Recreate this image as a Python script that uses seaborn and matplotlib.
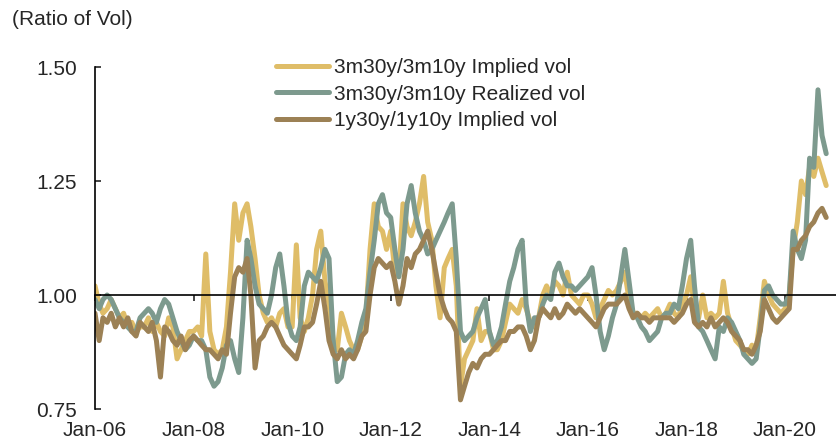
import pandas as pd
import seaborn as sns
import matplotlib
matplotlib.use("agg")
import matplotlib.pyplot as plt
import matplotlib.dates as mdates

# monthly readings, Jan-06 .. Nov-20
implied_3m = [
    1.02, 0.98, 0.96, 0.97, 0.99, 0.97, 0.95, 0.96, 0.93, 0.94, 0.92, 0.93,  # 2006
    0.93, 0.95, 0.92, 0.94, 0.92, 0.91, 0.95, 0.93, 0.86, 0.88, 0.90, 0.92,  # 2007
    0.92, 0.93, 0.91, 1.09, 0.92, 0.88, 0.87, 0.88, 0.93, 1.05, 1.20, 1.12,  # 2008
    1.18, 1.20, 1.15, 1.08, 1.00, 0.96, 0.94, 0.95, 0.93, 0.96, 0.97, 0.93,  # 2009
    0.93, 1.11, 0.95, 0.92, 0.95, 1.00, 1.10, 1.14, 1.03, 0.98, 0.90, 0.88,  # 2010
    0.96, 0.93, 0.90, 0.88, 0.88, 0.91, 0.95, 1.10, 1.20, 1.15, 1.14, 1.10,  # 2011
    1.14, 1.05, 1.04, 1.20, 1.15, 1.13, 1.16, 1.20, 1.26, 1.16, 1.12, 1.02,  # 2012
    0.95, 1.06, 1.08, 1.10, 1.02, 0.80, 0.86, 0.88, 0.90, 0.97, 0.90, 0.92,  # 2013
    0.92, 0.88, 0.88, 0.90, 0.94, 0.98, 0.97, 0.96, 0.99, 0.97, 0.94, 0.93,  # 2014
    0.95, 1.00, 1.02, 1.00, 1.03, 1.02, 1.00, 1.05, 1.00, 0.99, 0.98, 1.00,  # 2015
    1.00, 0.98, 0.95, 0.97, 0.99, 1.01, 1.00, 1.01, 1.03, 1.05, 0.99, 0.96,  # 2016
    0.96, 0.95, 0.96, 0.95, 0.96, 0.97, 0.95, 0.96, 0.98, 0.96, 0.95, 0.98,  # 2017
    1.00, 1.04, 0.97, 0.95, 1.00, 0.95, 0.96, 0.95, 0.96, 1.03, 0.96, 0.93,  # 2018
    0.90, 0.89, 0.88, 0.87, 0.89, 0.88, 0.95, 1.03, 1.00, 0.98, 0.97, 0.96,  # 2019
    0.97, 1.00, 1.10, 1.16, 1.25, 1.22, 1.28, 1.26, 1.30, 1.27, 1.24,        # 2020
]
realized_3m = [
    0.99, 0.97, 0.99, 1.00, 0.99, 0.97, 0.95, 0.94, 0.93, 0.92, 0.92, 0.95,
    0.96, 0.97, 0.96, 0.94, 0.97, 0.99, 0.98, 0.95, 0.92, 0.90, 0.88, 0.89,
    0.91, 0.90, 0.90, 0.88, 0.82, 0.80, 0.81, 0.84, 0.89, 0.90, 0.86, 0.83,
    0.95, 1.12, 1.08, 1.02, 0.98, 0.97, 0.96, 1.00, 1.06, 1.09, 1.02, 0.94,
    0.91, 0.90, 0.93, 1.02, 1.05, 1.04, 1.03, 1.06, 1.10, 1.08, 0.90, 0.81,
    0.82, 0.87, 0.88, 0.87, 0.90, 0.94, 0.97, 1.05, 1.12, 1.20, 1.22, 1.18,
    1.17, 1.10, 1.04, 1.10, 1.20, 1.24, 1.18, 1.14, 1.12, 1.09, 1.10, 1.12,
    1.14, 1.16, 1.18, 1.20, 1.08, 0.92, 0.90, 0.91, 0.92, 0.95, 0.97, 0.99,
    0.92, 0.89, 0.90, 0.93, 0.98, 1.03, 1.06, 1.10, 1.12, 0.98, 0.92, 0.95,
    0.95, 0.98, 1.00, 0.99, 1.05, 1.07, 1.04, 1.02, 1.02, 1.01, 1.02, 1.03,
    1.04, 1.06, 1.00, 0.92, 0.88, 0.91, 0.95, 0.98, 1.04, 1.10, 1.03, 0.96,
    0.95, 0.93, 0.92, 0.90, 0.91, 0.92, 0.95, 0.96, 0.96, 0.98, 0.97, 1.02,
    1.08, 1.12, 1.02, 0.93, 0.92, 0.90, 0.88, 0.86, 0.93, 0.92, 0.95, 0.94,
    0.92, 0.90, 0.87, 0.86, 0.85, 0.86, 0.93, 1.01, 1.02, 1.00, 0.99, 0.98,
    0.98, 1.00, 1.14, 1.10, 1.08, 1.12, 1.30, 1.28, 1.45, 1.35, 1.31,
]
implied_1y = [
    0.96, 0.90, 0.95, 0.94, 0.96, 0.93, 0.95, 0.93, 0.95, 0.92, 0.91, 0.94,
    0.93, 0.92, 0.94, 0.90, 0.82, 0.93, 0.92, 0.90, 0.89, 0.91, 0.88, 0.90,
    0.91, 0.90, 0.89, 0.88, 0.88, 0.87, 0.86, 0.88, 0.87, 0.96, 1.04, 1.06,
    1.05, 1.08, 1.00, 0.84, 0.90, 0.91, 0.93, 0.94, 0.93, 0.91, 0.89, 0.88,
    0.87, 0.86, 0.89, 0.93, 0.93, 0.94, 0.98, 1.03, 0.97, 0.90, 0.87, 0.86,
    0.88, 0.86, 0.87, 0.86, 0.88, 0.91, 0.92, 1.00, 1.06, 1.08, 1.07, 1.06,
    1.07, 1.03, 0.98, 1.02, 1.08, 1.06, 1.09, 1.10, 1.12, 1.14, 1.10, 1.05,
    1.00, 0.97, 0.95, 0.94, 0.92, 0.77, 0.80, 0.83, 0.85, 0.84, 0.86, 0.87,
    0.87, 0.88, 0.89, 0.90, 0.90, 0.92, 0.92, 0.93, 0.93, 0.91, 0.88, 0.90,
    0.95, 0.97, 0.96, 0.95, 0.97, 0.95, 0.96, 0.98, 0.97, 0.96, 0.97, 0.96,
    0.95, 0.94, 0.93, 0.95, 0.97, 0.98, 0.98, 0.98, 0.99, 1.00, 0.97, 0.95,
    0.96, 0.95, 0.95, 0.94, 0.95, 0.95, 0.95, 0.95, 0.95, 0.94, 0.95, 0.96,
    0.98, 0.99, 0.94, 0.93, 0.94, 0.93, 0.95, 0.93, 0.94, 0.95, 0.94, 0.92,
    0.91, 0.90, 0.88, 0.88, 0.87, 0.89, 0.92, 0.99, 0.97, 0.95, 0.94, 0.95,
    0.96, 0.97, 1.10, 1.10, 1.12, 1.13, 1.15, 1.16, 1.18, 1.19, 1.17,
]
series_names = ["3m30y/3m10y Implied vol", "3m30y/3m10y Realized vol", "1y30y/1y10y Implied vol"]
series_colors = ["#DFBD68", "#7D9A8E", "#9C8155"]
tick_dates = pd.date_range("2006-01-01", "2020-01-01", freq="2YS")

dates = pd.date_range("2006-01-01", periods=len(implied_3m), freq="MS")
df = pd.concat([
    pd.DataFrame({"date": dates, "ratio": vals, "series": name})
    for name, vals in zip(series_names, [implied_3m, realized_3m, implied_1y])
])

sns.set_style("white")
plt.rcParams["font.family"] = ["Liberation Sans", "DejaVu Sans"]

fig = plt.figure(figsize=(8.37, 4.43), dpi=100)
ax = fig.add_axes([95 / 837, 1 - 409 / 443, 1 - 95 / 837, (409 - 67) / 443])

sns.lineplot(data=df, x="date", y="ratio", hue="series", hue_order=series_names,
             palette=series_colors, linewidth=3.6, ax=ax)

ax.set_ylim(0.75, 1.5)
ax.set_xlim(pd.Timestamp("2006-01-01"), pd.Timestamp("2021-01-20"))
ax.set_yticks([0.75, 1.0, 1.25, 1.5])
ax.set_yticklabels(["0.75", "1.00", "1.25", "1.50"])
ax.set_xlabel("")
ax.set_ylabel("")

for s in ["top", "right"]:
    ax.spines[s].set_visible(False)
ax.spines["left"].set_color("black")
ax.spines["left"].set_linewidth(1.2)
ax.spines["bottom"].set_position(("data", 1.0))
ax.spines["bottom"].set_color("black")
ax.spines["bottom"].set_linewidth(1.2)

ax.tick_params(axis="y", direction="in", length=4, width=1.2, pad=13, labelsize=15, left=True)
ax.set_xticks(tick_dates)
ax.tick_params(axis="x", direction="out", length=4, width=1.2, labelbottom=False, bottom=True)

# date labels sit under the plot, not on the 1.00 line
sec = ax.secondary_xaxis("bottom")
sec.set_xticks(tick_dates)
sec.xaxis.set_major_formatter(mdates.DateFormatter("%b-%y"))
sec.spines["bottom"].set_visible(False)
sec.tick_params(length=0, pad=9, labelsize=15)

ax.legend(loc="upper left", bbox_to_anchor=(276 / 837, 1 - 58 / 443), bbox_transform=fig.transFigure,
          frameon=False, fontsize=15, handlelength=2.55, handletextpad=0.25,
          labelspacing=0.36, borderpad=0, borderaxespad=0)

fig.text(12 / 837, 1 - 10 / 443, "(Ratio of Vol)", fontsize=15, va="top", ha="left")

fig.savefig("out.png", dpi=100)
